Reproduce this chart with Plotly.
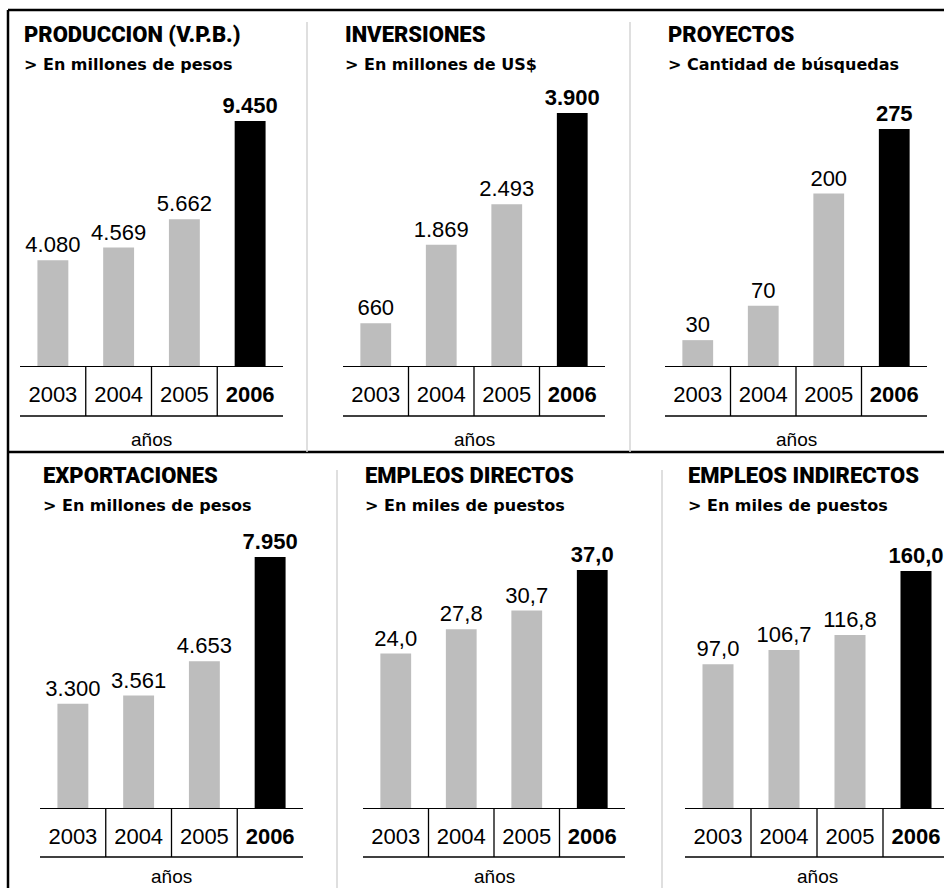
import plotly.graph_objects as go

W, H = 944, 888

years = ["2003", "2004", "2005", "2006"]
year_labels = ["2003", "2004", "2005", "<b>2006</b>"]
titles = ["PRODUCCION (V.P.B.)", "INVERSIONES", "PROYECTOS",
          "EXPORTACIONES", "EMPLEOS DIRECTOS", "EMPLEOS INDIRECTOS"]
subtitles = ["> En millones de pesos", "> En millones de US$", "> Cantidad de búsquedas",
             "> En millones de pesos", "> En miles de puestos", "> En miles de puestos"]
produccion = [4080, 4569, 5662, 9450]
inversiones = [660, 1869, 2493, 3900]
proyectos = [30, 70, 200, 275]
exportaciones = [3300, 3561, 4653, 7950]
empleos_directos = [24.0, 27.8, 30.7, 37.0]
empleos_indirectos = [97.0, 106.7, 116.8, 160.0]
series = [produccion, inversiones, proyectos, exportaciones, empleos_directos, empleos_indirectos]
decimals = [0, 0, 0, 0, 1, 1]
axis_label = "años"

GRAY = "#bdbdbd"
BLACK = "#000000"
FONT = "Liberation Sans"
HEAVY = "Roboto"
SUBFONT = "DejaVu Sans"

# panel geometry in pixels
panels = [
    dict(l=20, r=283, base=366, bot=416, ty=35, sy=64, ay=439, top=100, head=1.086, tx=22),
    dict(l=343, r=605, base=366, bot=416, ty=35, sy=64, ay=439, top=100, head=1.051, tx=343),
    dict(l=665, r=927, base=366, bot=416, ty=35, sy=64, ay=439, top=100, head=1.122, tx=666),
    dict(l=40, r=303, base=808, bot=857, ty=475, sy=506, ay=876, top=540, head=1.068, tx=41),
    dict(l=363, r=625, base=808, bot=857, ty=475, sy=506, ay=876, top=540, head=1.126, tx=363),
    dict(l=685, r=949, base=808, bot=857, ty=475, sy=506, ay=876, top=540, head=1.131, tx=686),
]


def px(x):
    return x / W


def py(y):
    return 1 - y / H


def fmt(v, d):
    s = f"{v:,.{d}f}"
    return s.replace(",", "#").replace(".", ",").replace("#", ".")


fig = go.Figure()
shapes = []
annotations = []
layout_axes = {}

for i, (vals, p) in enumerate(zip(series, panels)):
    n = i + 1
    xa = "x" if n == 1 else f"x{n}"
    ya = "y" if n == 1 else f"y{n}"
    labels = [fmt(v, decimals[i]) for v in vals]
    labels[-1] = f"<b>{labels[-1]}</b>"
    colors = [GRAY] * (len(vals) - 1) + [BLACK]
    fig.add_trace(go.Bar(
        x=years, y=vals, xaxis=xa, yaxis=ya,
        marker=dict(color=colors, line=dict(width=0)),
        text=labels, textposition="outside", cliponaxis=False, constraintext="none",
        textfont=dict(family=FONT, size=22, color="#000"),
        hoverinfo="skip", showlegend=False,
    ))
    cell = (p["r"] - p["l"]) / 4
    right = min(p["r"], W)
    xmax = 3.5 - (p["r"] - right) / cell
    xkey = "xaxis" if n == 1 else f"xaxis{n}"
    ykey = "yaxis" if n == 1 else f"yaxis{n}"
    layout_axes[xkey] = dict(
        domain=[px(p["l"]), px(right)], anchor=ya, type="category",
        range=[-0.5, xmax], tickmode="array", tickvals=years, ticktext=year_labels,
        tickfont=dict(family=FONT, size=22, color="#000"), ticks="",
        ticklabelstandoff=8, showline=True, linecolor="#000", linewidth=1.3,
        showgrid=False, zeroline=False, fixedrange=True,
    )
    layout_axes[ykey] = dict(
        domain=[py(p["base"]), py(p["top"])], anchor=xa,
        range=[0, max(vals) * p["head"]], visible=False, fixedrange=True,
    )
    shapes.append(dict(type="line", xref=f"{xa} domain", yref="paper",
                       x0=0, x1=1, y0=py(p["bot"]), y1=py(p["bot"]),
                       line=dict(color="#000", width=1.3)))
    for k in range(1, 4):
        shapes.append(dict(type="line", xref=xa, yref="paper",
                           x0=k - 0.5, x1=k - 0.5, y0=py(p["base"]), y1=py(p["bot"]),
                           line=dict(color="#000", width=1.3)))
    annotations.append(dict(text=titles[i], xref="paper", yref="paper",
                            x=px(p["tx"]), y=py(p["ty"]), xanchor="left", yanchor="middle",
                            showarrow=False,
                            font=dict(family=HEAVY, size=22, color="#000", weight=900)))
    annotations.append(dict(text=subtitles[i], xref="paper", yref="paper",
                            x=px(p["tx"]), y=py(p["sy"]), xanchor="left", yanchor="middle",
                            showarrow=False,
                            font=dict(family=SUBFONT, size=16, color="#000", weight="bold")))
    annotations.append(dict(text=axis_label, xref="paper", yref="paper",
                            x=px((p["l"] + p["r"]) / 2), y=py(p["ay"]), xanchor="center",
                            yanchor="middle", showarrow=False,
                            font=dict(family=FONT, size=19, color="#000")))

frame = [
    (8, 10, W, 10, "#000", 2.5),
    (8, 10, 8, H, "#000", 2.5),
    (8, 452, W, 452, "#000", 2.5),
    (307, 22, 307, 452, "#d4d4d4", 1.5),
    (630, 22, 630, 452, "#d4d4d4", 1.5),
    (337, 470, 337, H, "#d4d4d4", 1.5),
    (662, 470, 662, H, "#d4d4d4", 1.5),
]
for x0, y0, x1, y1, c, w in frame:
    shapes.append(dict(type="line", xref="paper", yref="paper",
                       x0=px(x0), x1=px(x1), y0=py(y0), y1=py(y1),
                       line=dict(color=c, width=w)))

fig.update_layout(
    width=W, height=H, margin=dict(l=0, r=0, t=0, b=0),
    paper_bgcolor="white", plot_bgcolor="white",
    bargap=0.53, shapes=shapes, annotations=annotations,
    **layout_axes,
)

fig.write_html("out.html", config={"displayModeBar": False},
               post_script="document.body.style.margin='0';document.body.style.overflow='hidden';")
